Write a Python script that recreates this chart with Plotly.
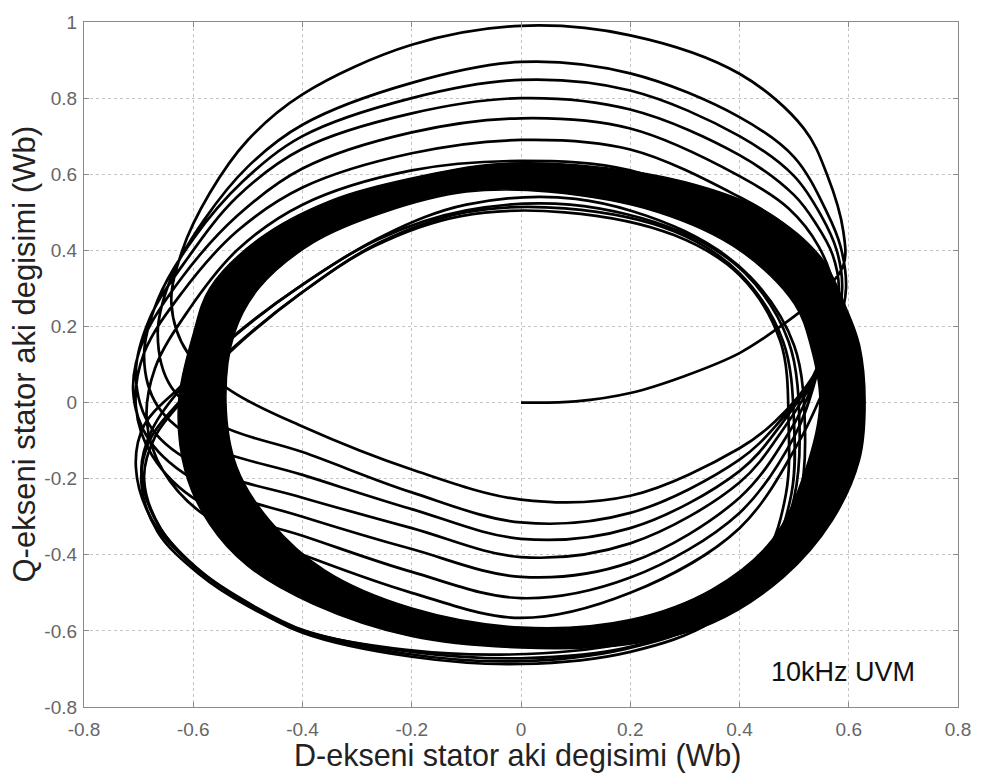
import plotly.graph_objects as go

# ---- stator flux trajectory data (Wb) ----------------------------------
# start-up path from the origin into the first loop
start_x = [0.00, 0.10, 0.20, 0.30, 0.40, 0.475, 0.545, 0.59]
start_y = [0.00, 0.003, 0.025, 0.07, 0.13, 0.20, 0.28, 0.36]

# right flank of each transient loop (rising side, before the top arc)
right_x = [
    [0.59, 0.56, 0.518],
    [0.465, 0.54, 0.58, 0.595, 0.585, 0.56, 0.50],
    [0.47, 0.535, 0.575, 0.588, 0.578, 0.55, 0.50],
    [0.475, 0.535, 0.57, 0.582, 0.57, 0.54, 0.50],
    [0.48, 0.535, 0.565, 0.572, 0.545, 0.49],
    [0.49, 0.535, 0.56, 0.565, 0.54, 0.48],
    [0.50, 0.535, 0.555, 0.557, 0.53, 0.47],
]
right_y = [
    [0.45, 0.60, 0.72],
    [-0.05, 0.08, 0.20, 0.30, 0.41, 0.50, 0.645],
    [-0.055, 0.07, 0.20, 0.30, 0.40, 0.49, 0.595],
    [-0.06, 0.07, 0.20, 0.30, 0.39, 0.47, 0.545],
    [-0.07, 0.06, 0.19, 0.30, 0.41, 0.51],
    [-0.08, 0.05, 0.18, 0.28, 0.38, 0.47],
    [-0.09, 0.04, 0.17, 0.26, 0.35, 0.43],
]

# top arcs, Q-flux at these D-flux positions
top_x = [0.4, 0.2, 0.0, -0.2, -0.4]
top_y = [
    [0.864, 0.965, 0.99, 0.94, 0.81],
    [0.75, 0.865, 0.895, 0.84, 0.73],
    [0.70, 0.82, 0.848, 0.80, 0.70],
    [0.65, 0.77, 0.80, 0.76, 0.667],
    [0.595, 0.72, 0.747, 0.71, 0.615],
    [0.54, 0.665, 0.69, 0.655, 0.565],
    [0.49, 0.61, 0.635, 0.61, 0.52],
]

# left flank of each transient loop (falling side)
left_x = [
    [-0.50, -0.57, -0.62, -0.64, -0.61, -0.53],
    [-0.50, -0.58, -0.64, -0.665, -0.64, -0.55],
    [-0.51, -0.60, -0.665, -0.69, -0.665, -0.58],
    [-0.52, -0.61, -0.68, -0.705, -0.675, -0.585],
    [-0.52, -0.62, -0.69, -0.71, -0.68, -0.59],
    [-0.52, -0.62, -0.69, -0.705, -0.675, -0.59],
    [-0.52, -0.61, -0.67, -0.685, -0.655, -0.575],
]
left_y = [
    [0.69, 0.55, 0.40, 0.26, 0.13, 0.03],
    [0.62, 0.48, 0.33, 0.18, 0.04, -0.06],
    [0.58, 0.43, 0.27, 0.12, -0.01, -0.11],
    [0.54, 0.38, 0.22, 0.07, -0.07, -0.17],
    [0.49, 0.33, 0.17, 0.03, -0.10, -0.21],
    [0.45, 0.29, 0.13, -0.01, -0.14, -0.26],
    [0.40, 0.24, 0.09, -0.05, -0.18, -0.30],
]

# bottom arcs, Q-flux at these D-flux positions
bottom_x = [-0.4, -0.2, 0.0, 0.2, 0.4]
bottom_y = [
    [-0.063, -0.176, -0.255, -0.245, -0.12],
    [-0.13, -0.236, -0.315, -0.29, -0.15],
    [-0.19, -0.28, -0.358, -0.33, -0.18],
    [-0.25, -0.33, -0.406, -0.37, -0.21],
    [-0.30, -0.385, -0.458, -0.42, -0.25],
    [-0.35, -0.445, -0.514, -0.46, -0.29],
    [-0.40, -0.50, -0.566, -0.50, -0.33],
]

# end of the transient, entering the steady-state band
end_x = [0.51, 0.56, 0.58]
end_y = [-0.10, 0.05, 0.10]

# late loops slightly shifted down/left (inside band at top, outside at bottom)
late_x = [
    [0.52, 0.50, 0.42, 0.30, 0.10, -0.10, -0.25, -0.40, -0.52, -0.615, -0.675,
     -0.695, -0.665, -0.59, -0.50, -0.40, -0.20, 0.00, 0.20, 0.35, 0.46, 0.51,
     0.52],
    [0.51, 0.49, 0.41, 0.29, 0.09, -0.10, -0.26, -0.41, -0.53, -0.625, -0.69,
     -0.705, -0.675, -0.60, -0.51, -0.41, -0.21, -0.01, 0.19, 0.345, 0.455,
     0.50, 0.51],
    [0.50, 0.48, 0.40, 0.28, 0.08, -0.10, -0.26, -0.40, -0.52, -0.61, -0.67,
     -0.69, -0.66, -0.585, -0.495, -0.395, -0.20, 0.00, 0.20, 0.34, 0.45,
     0.495, 0.50],
    [0.49, 0.475, 0.40, 0.28, 0.08, -0.11, -0.27, -0.41, -0.53, -0.62, -0.68,
     -0.695, -0.665, -0.59, -0.50, -0.40, -0.21, -0.02, 0.18, 0.335, 0.445,
     0.485, 0.49],
]
late_y = [
    [-0.08, 0.15, 0.33, 0.45, 0.535, 0.52, 0.44, 0.31, 0.18, 0.05, -0.07,
     -0.18, -0.32, -0.44, -0.53, -0.605, -0.668, -0.687, -0.655, -0.575,
     -0.42, -0.25, -0.08],
    [-0.07, 0.16, 0.34, 0.45, 0.52, 0.505, 0.43, 0.30, 0.17, 0.04, -0.06,
     -0.17, -0.31, -0.43, -0.52, -0.595, -0.66, -0.68, -0.648, -0.57,
     -0.42, -0.25, -0.07],
    [-0.06, 0.16, 0.34, 0.45, 0.51, 0.50, 0.42, 0.29, 0.15, 0.02, -0.09,
     -0.20, -0.33, -0.445, -0.53, -0.60, -0.655, -0.672, -0.642, -0.565,
     -0.42, -0.24, -0.06],
    [-0.06, 0.16, 0.335, 0.44, 0.50, 0.49, 0.41, 0.28, 0.14, 0.01, -0.10,
     -0.21, -0.34, -0.45, -0.535, -0.60, -0.65, -0.662, -0.635, -0.56,
     -0.41, -0.24, -0.06],
]

# steady-state band: outer and inner edges (counter-clockwise)
band_out_x = [0.63, 0.62, 0.595, 0.55, 0.45, 0.30, 0.10, -0.05, -0.20, -0.35,
              -0.48, -0.57, -0.60, -0.627, -0.615, -0.57, -0.50, -0.38, -0.20,
              0.00, 0.20, 0.35, 0.48, 0.57, 0.62]
band_out_y = [0.00, 0.15, 0.25, 0.38, 0.50, 0.58, 0.625, 0.627, 0.59, 0.53,
              0.43, 0.30, 0.18, 0.00, -0.18, -0.32, -0.43, -0.53, -0.615,
              -0.645, -0.635, -0.58, -0.46, -0.31, -0.15]
band_in_x = [0.547, 0.53, 0.50, 0.40, 0.25, 0.05, -0.10, -0.25, -0.38, -0.48,
             -0.525, -0.54, -0.52, -0.46, -0.36, -0.20, 0.00, 0.20, 0.35,
             0.46, 0.52]
band_in_y = [0.00, 0.15, 0.26, 0.40, 0.50, 0.553, 0.553, 0.50, 0.42, 0.30,
             0.18, 0.00, -0.17, -0.31, -0.44, -0.54, -0.59, -0.57, -0.49,
             -0.36, -0.18]

annotation_text = "10kHz UVM"

# ---- assemble the continuous transient path --------------------------------
traj_x = list(start_x)
traj_y = list(start_y)
for k in range(len(top_y)):
    traj_x += right_x[k] + top_x + left_x[k] + bottom_x
    traj_y += right_y[k] + top_y[k] + left_y[k] + bottom_y[k]
traj_x += end_x
traj_y += end_y

# band polygon with a hole: outer ring, gap, inner ring in reverse
band_x = band_out_x + [band_out_x[0], None] + band_in_x[::-1] + [band_in_x[-1]]
band_y = band_out_y + [band_out_y[0], None] + band_in_y[::-1] + [band_in_y[-1]]

LINE = dict(color="black", width=2.7, shape="spline", smoothing=1.0)

fig = go.Figure()
fig.add_trace(go.Scatter(
    x=band_x, y=band_y, mode="lines", fill="toself", fillcolor="black",
    line=dict(color="black", width=1.5, shape="spline", smoothing=1.0),
    hoverinfo="skip", showlegend=False))
fig.add_trace(go.Scatter(x=traj_x, y=traj_y, mode="lines", line=LINE,
                         showlegend=False))
for lx, ly in zip(late_x, late_y):
    fig.add_trace(go.Scatter(x=lx, y=ly, mode="lines", line=LINE,
                             showlegend=False))

FONT = "Liberation Sans, Arial, Helvetica, sans-serif"
x_ticks = [-0.8, -0.6, -0.4, -0.2, 0.0, 0.2, 0.4, 0.6, 0.8]
y_ticks = [-0.8, -0.6, -0.4, -0.2, 0.0, 0.2, 0.4, 0.6, 0.8, 1.0]

axis_common = dict(
    showgrid=True, gridcolor="#c4c4c4", griddash="dot", gridwidth=1,
    zeroline=False, showline=True, linecolor="#8a8a8a", linewidth=1.2,
    mirror="ticks", ticks="inside", ticklen=5, tickcolor="#8a8a8a",
    tickfont=dict(family=FONT, size=19, color="#666666"),
)

fig.update_xaxes(range=[-0.8, 0.8], tickvals=x_ticks,
                 ticktext=[f"{v:g}" for v in x_ticks], ticklabelstandoff=5,
                 **axis_common)
fig.update_yaxes(range=[-0.8, 1.0], tickvals=y_ticks,
                 ticktext=[f"{v:g}" for v in y_ticks], ticklabelstandoff=2,
                 **axis_common)

fig.update_layout(
    width=983, height=780,
    margin=dict(l=84, r=20, t=15, b=73),
    paper_bgcolor="white", plot_bgcolor="white",
    font=dict(family=FONT),
    annotations=[
        dict(text="D-ekseni stator aki degisimi (Wb)", xref="paper",
             yref="paper", x=0.496, y=-0.0708, xanchor="center",
             yanchor="middle", showarrow=False,
             font=dict(family=FONT, size=30.5, color="#222222")),
        dict(text="Q-ekseni stator aki degisimi (Wb)", xref="paper",
             yref="paper", x=-0.0683, y=0.515, textangle=-90,
             xanchor="center", yanchor="middle", showarrow=False,
             font=dict(family=FONT, size=31, color="#222222")),
        dict(text=annotation_text, x=0.59, y=-0.707, xref="x", yref="y",
             xanchor="center", yanchor="middle", showarrow=False,
             font=dict(family=FONT, size=27, color="#111111")),
    ],
)

fig.write_html("out.html")
